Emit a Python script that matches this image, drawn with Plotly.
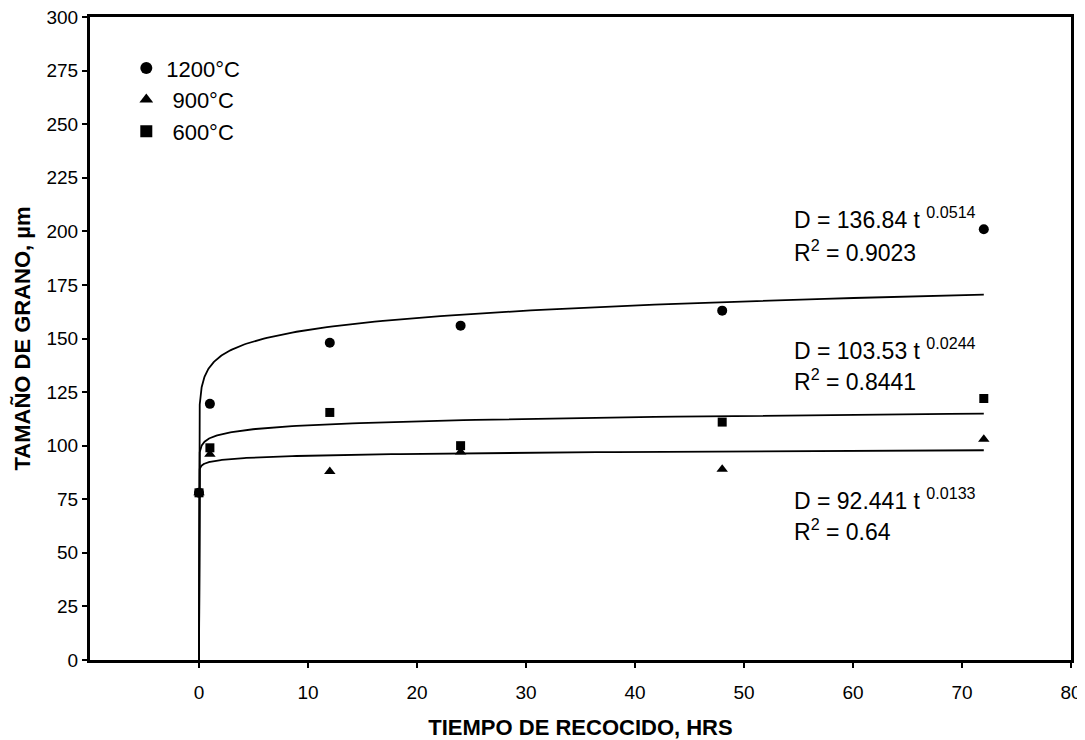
import numpy as np
import plotly.graph_objects as go

# Data
t_1200 = [0, 1, 12, 24, 48, 72]
d_1200 = [78, 119.5, 148, 156, 163, 201]
t_900 = [0, 1, 12, 24, 48, 72]
d_900 = [78, 96, 88, 97, 89, 103]
t_600 = [0, 1, 12, 24, 48, 72]
d_600 = [78, 99, 115.5, 100, 111, 122]

# Power-law trendline coefficients shown on the chart: D = a * t^b
fit_1200 = (136.84, 0.0514, "0.9023")
fit_600 = (103.53, 0.0244, "0.8441")
fit_900 = (92.441, 0.0133, "0.64")

x_ticks = [0, 10, 20, 30, 40, 50, 60, 70, 80]
y_ticks = list(range(0, 301, 25))

FONT = "Arial, Liberation Sans, sans-serif"

t_fit = np.concatenate([[0.0], np.geomspace(1e-6, 72, 400)])

fig = go.Figure()

for a, b, _ in (fit_1200, fit_600, fit_900):
    fig.add_trace(go.Scatter(x=t_fit, y=a * t_fit ** b, mode="lines",
                             line=dict(color="black", width=1.8),
                             showlegend=False, hoverinfo="skip"))

fig.add_trace(go.Scatter(x=t_1200, y=d_1200, mode="markers", name="1200°C",
                         marker=dict(symbol="circle", size=10, color="black")))
fig.add_trace(go.Scatter(x=t_900, y=d_900, mode="markers", name=" 900°C",
                         marker=dict(symbol="triangle-up", size=10, color="black")))
fig.add_trace(go.Scatter(x=t_600, y=d_600, mode="markers", name=" 600°C",
                         marker=dict(symbol="square", size=9, color="black")))

def add_eq(fit, y_eq, y_r):
    a, b, r2 = fit
    fig.add_annotation(x=54.4, y=y_eq, xref="x", yref="y", showarrow=False,
                       xanchor="left", yanchor="middle",
                       text=f"D = {a:g} t <sup>{b:g}</sup>",
                       font=dict(family=FONT, size=23, color="black"))
    fig.add_annotation(x=54.4, y=y_r, xref="x", yref="y", showarrow=False,
                       xanchor="left", yanchor="middle",
                       text=f"R<sup>2</sup> = {r2}",
                       font=dict(family=FONT, size=23, color="black"))

add_eq(fit_1200, 206, 191)
add_eq(fit_600, 145, 130.5)
add_eq(fit_900, 75, 60.5)

fig.update_layout(
    width=1085, height=740,
    margin=dict(l=82, r=22, t=9, b=88),
    paper_bgcolor="white", plot_bgcolor="white",
    font=dict(family=FONT, size=19, color="black"),
    legend=dict(x=0.037, y=0.953, xanchor="left", yanchor="top",
                bgcolor="rgba(0,0,0,0)", font=dict(family=FONT, size=22),
                itemsizing="constant", tracegroupgap=0),
    xaxis=dict(range=[-10, 80], tickvals=x_ticks, ticks="outside", ticklen=5,
               tickwidth=2, tickcolor="black", showgrid=False, zeroline=False,
               showline=True, linecolor="black", linewidth=3, mirror=True,
               tickfont=dict(family=FONT, size=19), ticklabelstandoff=8,
               automargin=False, ticklabeloverflow="allow",
               title=dict(text="<b>TIEMPO DE RECOCIDO, HRS</b>", standoff=18,
                          font=dict(family=FONT, size=22))),
    yaxis=dict(range=[0, 300], tickvals=y_ticks, ticks="outside", ticklen=5,
               tickwidth=2, tickcolor="black", showgrid=False, zeroline=False,
               showline=True, linecolor="black", linewidth=3, mirror=True,
               tickfont=dict(family=FONT, size=19), automargin=False,
               ticklabeloverflow="allow",
               title=dict(text="<b>TAMAÑO DE GRANO, µm</b>", standoff=10,
                          font=dict(family=FONT, size=22))),
)

fig.write_html("out.html")
